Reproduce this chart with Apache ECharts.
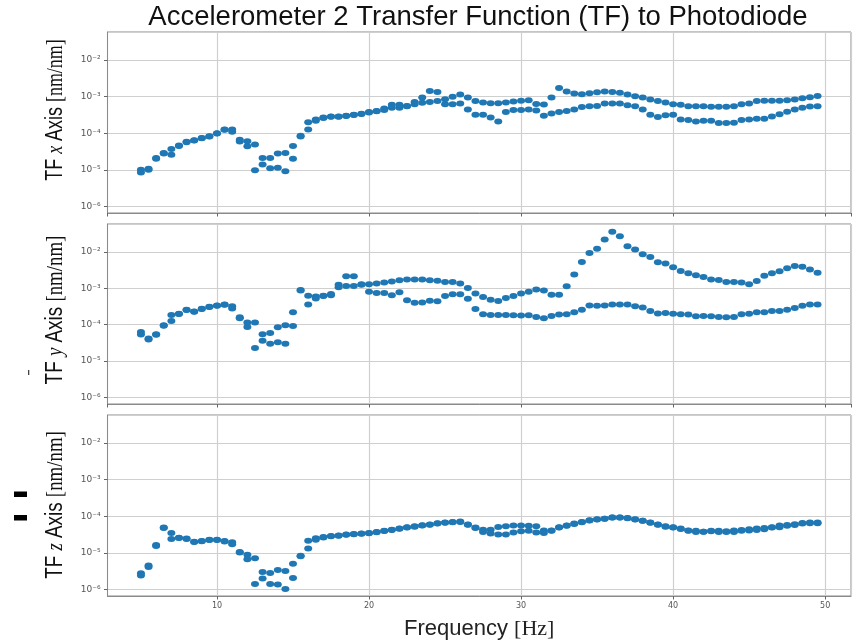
<!DOCTYPE html>
<html>
<head>
<meta charset="utf-8">
<script src="https://cdn.jsdelivr.net/npm/echarts@6/dist/echarts.min.js"></script>
<style>html,body{margin:0;padding:0;background:#fff;}#c{width:855px;height:642px;}</style>
</head>
<body>
<div id="c"></div>
<script>
const titleText = 'Accelerometer 2 Transfer Function (TF) to Photodiode';
const xAxisTitle = ['Frequency ', '[Hz]'];
const panelAxisNames = ['x', 'y', 'z'];
const xTicks = [10, 20, 30, 40, 50];
const yTickExps = [-6, -5, -4, -3, -2];
const yTickLabels = ['10\u207B\u2076', '10\u207B\u2075', '10\u207B\u2074', '10\u207B\u00B3', '10\u207B\u00B2'];

const freq = [
  5.0, 5.5, 6.0, 6.5, 7.0, 7.5, 8.0, 8.5, 9.0, 9.5,
  10.0, 10.5, 11.0, 11.5, 12.0, 12.5, 13.0, 13.5, 14.0, 14.5,
  15.0, 15.5, 16.0, 16.5, 17.0, 17.5, 18.0, 18.5, 19.0, 19.5,
  20.0, 20.5, 21.0, 21.5, 22.0, 22.5, 23.0, 23.5, 24.0, 24.5,
  25.0, 25.5, 26.0, 26.5, 27.0, 27.5, 28.0, 28.5, 29.0, 29.5,
  30.0, 30.5, 31.0, 31.5, 32.0, 32.5, 33.0, 33.5, 34.0, 34.5,
  35.0, 35.5, 36.0, 36.5, 37.0, 37.5, 38.0, 38.5, 39.0, 39.5,
  40.0, 40.5, 41.0, 41.5, 42.0, 42.5, 43.0, 43.5, 44.0, 44.5,
  45.0, 45.5, 46.0, 46.5, 47.0, 47.5, 48.0, 48.5, 49.0, 49.5
];

const xUpper = [
  1.0e-5, 1.07e-5, 2.1e-5, 2.9e-5, 3.7e-5, 4.6e-5, 5.9e-5, 6.4e-5, 7.4e-5, 8.3e-5,
  1.0e-4, 1.26e-4, 1.26e-4, 6.7e-5, 6.1e-5, 4.9e-5, 2.1e-5, 2.1e-5, 2.8e-5, 2.9e-5,
  4.5e-5, 8.5e-5, 2.0e-4, 2.4e-4, 2.7e-4, 2.9e-4, 2.9e-4, 3.0e-4, 3.2e-4, 3.4e-4,
  3.8e-4, 4.1e-4, 4.8e-4, 6.0e-4, 6.0e-4, 5.6e-4, 7.2e-4, 9.5e-4, 1.44e-3, 1.35e-3,
  8.5e-4, 1.0e-3, 1.15e-3, 9.5e-4, 7.6e-4, 6.9e-4, 6.6e-4, 6.6e-4, 6.9e-4, 7.4e-4,
  7.7e-4, 8.0e-4, 6.3e-4, 6.1e-4, 9.5e-4, 1.74e-3, 1.38e-3, 1.22e-3, 1.17e-3, 1.25e-3,
  1.33e-3, 1.38e-3, 1.35e-3, 1.28e-3, 1.15e-3, 1.03e-3, 9.5e-4, 8.4e-4, 7.6e-4, 6.9e-4,
  6.2e-4, 6.0e-4, 5.5e-4, 5.5e-4, 5.5e-4, 5.3e-4, 5.3e-4, 5.3e-4, 5.5e-4, 6.2e-4,
  6.5e-4, 7.6e-4, 7.8e-4, 7.8e-4, 7.8e-4, 8.0e-4, 8.4e-4, 9.1e-4, 9.7e-4, 1.05e-3
];
const xLower = [
  8.5e-6, 1.0e-5, 2.0e-5, 2.8e-5, 2.6e-5, 4.5e-5, 5.7e-5, 6.3e-5, 7.3e-5, 8.2e-5,
  9.8e-5, 1.24e-4, 1.1e-4, 6.0e-5, 4.4e-5, 9.8e-6, 1.4e-5, 1.1e-5, 1.15e-5, 9.1e-6,
  2.0e-5, 8.2e-5, 1.26e-4, 2.2e-4, 2.6e-4, 2.85e-4, 2.85e-4, 2.95e-4, 3.15e-4, 3.35e-4,
  3.7e-4, 4.0e-4, 4.3e-4, 5.0e-4, 5.0e-4, 5.5e-4, 6.2e-4, 6.8e-4, 7.2e-4, 7.6e-4,
  6.2e-4, 6.2e-4, 6.5e-4, 4.5e-4, 3.2e-4, 3.2e-4, 2.7e-4, 2.1e-4, 3.8e-4, 4.3e-4,
  4.3e-4, 4.5e-4, 4.2e-4, 3.0e-4, 3.5e-4, 3.8e-4, 4.1e-4, 4.5e-4, 5.2e-4, 5.5e-4,
  5.6e-4, 6.5e-4, 6.5e-4, 6.5e-4, 5.8e-4, 5.5e-4, 4.5e-4, 3.2e-4, 2.8e-4, 3.1e-4,
  3.2e-4, 2.4e-4, 2.3e-4, 2.1e-4, 2.2e-4, 2.2e-4, 1.9e-4, 1.9e-4, 1.95e-4, 2.3e-4,
  2.4e-4, 2.5e-4, 2.5e-4, 2.9e-4, 3.3e-4, 3.9e-4, 4.5e-4, 5.0e-4, 5.4e-4, 5.5e-4
];

const yUpper = [
  6.3e-5, 4.2e-5, 5.5e-5, 9.6e-5, 1.86e-4, 2.0e-4, 2.6e-4, 2.3e-4, 2.75e-4, 3.1e-4,
  3.4e-4, 3.6e-4, 3.2e-4, 1.6e-4, 1.15e-4, 1.15e-4, 5.5e-5, 5.9e-5, 8.5e-5, 9.6e-5,
  2.2e-4, 9.0e-4, 6.3e-4, 6.0e-4, 6.3e-4, 7.0e-4, 1.26e-3, 2.15e-3, 2.15e-3, 1.3e-3,
  1.3e-3, 1.35e-3, 1.44e-3, 1.54e-3, 1.66e-3, 1.74e-3, 1.74e-3, 1.74e-3, 1.66e-3, 1.63e-3,
  1.5e-3, 1.5e-3, 1.35e-3, 1.03e-3, 7.2e-4, 5.8e-4, 4.9e-4, 4.5e-4, 5.4e-4, 6.2e-4,
  7.2e-4, 8.1e-4, 9.3e-4, 8.7e-4, 6.7e-4, 6.7e-4, 1.14e-3, 2.4e-3, 5.3e-3, 9.4e-3,
  1.23e-2, 2.2e-2, 3.6e-2, 2.7e-2, 1.44e-2, 1.18e-2, 8.7e-3, 7.3e-3, 5.2e-3, 4.8e-3,
  3.8e-3, 3.0e-3, 2.6e-3, 2.3e-3, 2.05e-3, 1.74e-3, 1.7e-3, 1.5e-3, 1.5e-3, 1.44e-3,
  1.3e-3, 1.6e-3, 2.24e-3, 2.6e-3, 2.95e-3, 3.6e-3, 4.1e-3, 3.9e-3, 3.3e-3, 2.7e-3
];
const yLower = [
  5.4e-5, 3.9e-5, 5.3e-5, 9.4e-5, 1.26e-4, 1.98e-4, 2.55e-4, 2.28e-4, 2.7e-4, 3.05e-4,
  3.35e-4, 3.55e-4, 2.8e-4, 1.5e-4, 8.7e-5, 2.3e-5, 3.6e-5, 3.0e-5, 3.3e-5, 3.0e-5,
  9.2e-5, 8.8e-4, 3.6e-4, 5.3e-4, 6.2e-4, 6.5e-4, 1.07e-3, 1.17e-3, 1.17e-3, 1.25e-3,
  8.1e-4, 7.4e-4, 7.4e-4, 6.5e-4, 7.8e-4, 4.7e-4, 4.0e-4, 4.1e-4, 4.6e-4, 4.4e-4,
  6.2e-4, 6.9e-4, 6.9e-4, 5.2e-4, 2.7e-4, 1.95e-4, 1.86e-4, 1.86e-4, 1.86e-4, 1.83e-4,
  1.78e-4, 1.83e-4, 1.64e-4, 1.5e-4, 1.74e-4, 1.9e-4, 1.93e-4, 2.2e-4, 2.6e-4, 3.4e-4,
  3.3e-4, 3.4e-4, 3.6e-4, 3.6e-4, 3.6e-4, 3.2e-4, 3.0e-4, 2.4e-4, 2.05e-4, 2.1e-4,
  2.0e-4, 1.95e-4, 1.9e-4, 1.7e-4, 1.75e-4, 1.7e-4, 1.64e-4, 1.6e-4, 1.64e-4, 1.94e-4,
  2.0e-4, 2.2e-4, 2.2e-4, 2.4e-4, 2.4e-4, 2.6e-4, 2.9e-4, 3.3e-4, 3.6e-4, 3.6e-4
];

const zUpper = [
  2.75e-6, 4.5e-6, 1.65e-5, 4.9e-5, 3.5e-5, 2.6e-5, 2.45e-5, 2.0e-5, 2.1e-5, 2.3e-5,
  2.3e-5, 2.1e-5, 1.95e-5, 1.05e-5, 8.9e-6, 7.1e-6, 3.0e-6, 2.8e-6, 3.4e-6, 3.2e-6,
  5.0e-6, 8.3e-6, 2.15e-5, 2.5e-5, 2.7e-5, 2.9e-5, 3.0e-5, 3.2e-5, 3.3e-5, 3.4e-5,
  3.5e-5, 3.7e-5, 4.0e-5, 4.3e-5, 4.6e-5, 5.0e-5, 5.3e-5, 5.7e-5, 6.0e-5, 6.4e-5,
  6.8e-5, 7.0e-5, 7.2e-5, 6.0e-5, 4.9e-5, 4.3e-5, 4.3e-5, 5.1e-5, 5.3e-5, 5.6e-5,
  5.6e-5, 5.5e-5, 5.3e-5, 4.1e-5, 4.1e-5, 5.0e-5, 5.6e-5, 6.3e-5, 7.0e-5, 7.8e-5,
  8.3e-5, 8.6e-5, 9.3e-5, 9.3e-5, 9.0e-5, 8.3e-5, 7.6e-5, 6.8e-5, 6.0e-5, 5.3e-5,
  5.0e-5, 4.6e-5, 4.1e-5, 4.0e-5, 3.8e-5, 4.0e-5, 4.0e-5, 3.9e-5, 4.1e-5, 4.2e-5,
  4.4e-5, 4.6e-5, 4.8e-5, 5.0e-5, 5.6e-5, 5.8e-5, 6.1e-5, 6.6e-5, 6.8e-5, 6.8e-5
];
const zLower = [
  2.4e-6, 4.1e-6, 1.55e-5, 4.8e-5, 2.4e-5, 2.55e-5, 2.4e-5, 1.98e-5, 2.08e-5, 2.25e-5,
  2.25e-5, 2.05e-5, 1.73e-5, 1.02e-5, 6.7e-6, 1.4e-6, 2.0e-6, 1.4e-6, 1.37e-6, 1.02e-6,
  2.05e-6, 8.1e-6, 1.32e-5, 2.3e-5, 2.65e-5, 2.85e-5, 2.95e-5, 3.15e-5, 3.25e-5, 3.35e-5,
  3.45e-5, 3.65e-5, 3.95e-5, 4.25e-5, 4.55e-5, 4.9e-5, 5.2e-5, 5.6e-5, 5.9e-5, 6.3e-5,
  6.7e-5, 6.9e-5, 7.0e-5, 5.9e-5, 4.8e-5, 3.7e-5, 3.4e-5, 3.2e-5, 3.2e-5, 3.6e-5,
  3.9e-5, 4.0e-5, 3.6e-5, 3.5e-5, 4.0e-5, 4.9e-5, 5.5e-5, 6.2e-5, 6.9e-5, 7.7e-5,
  8.2e-5, 8.5e-5, 9.2e-5, 9.2e-5, 8.9e-5, 8.2e-5, 7.5e-5, 6.7e-5, 5.9e-5, 5.2e-5,
  4.9e-5, 4.5e-5, 4.0e-5, 3.7e-5, 3.75e-5, 3.9e-5, 3.7e-5, 3.7e-5, 3.7e-5, 4.0e-5,
  4.1e-5, 4.2e-5, 4.4e-5, 4.9e-5, 5.0e-5, 5.5e-5, 5.8e-5, 6.3e-5, 6.5e-5, 6.4e-5
];

const panels = [[xUpper, xLower], [yUpper, yLower], [zUpper, zLower]];

// layout
const gridLeft = 107.5, gridWidth = 743.5;
const gridTops = [32, 224, 415];
const gridHeights = [181, 180, 181];
const xMin = 2.8, xMax = 51.7;
const yMin = Math.pow(10, -6.18), yMax = Math.pow(10, -1.23);
const dotColor = '#1f77b4';
const gridLineColor = '#cfcfcf';
const spineColor = '#8a8a8a';

function yLabel(v) {
  const e = Math.log10(v);
  const r = Math.round(e);
  if (Math.abs(e - r) > 1e-6) return '';
  const idx = yTickExps.indexOf(r);
  return idx >= 0 ? yTickLabels[idx] : '';
}
function xLabel(v) {
  return xTicks.indexOf(Math.round(v * 1000) / 1000) >= 0 ? String(v) : '';
}

const grids = [], xAxes = [], yAxes = [], series = [];
for (let i = 0; i < 3; i++) {
  grids.push({left: gridLeft, top: gridTops[i], width: gridWidth, height: gridHeights[i],
    show: true, borderColor: spineColor, borderWidth: 1, backgroundColor: 'transparent'});
  xAxes.push({
    type: 'value', gridIndex: i, min: xMin, max: xMax,
    axisLine: {show: true, onZero: false, lineStyle: {color: spineColor}},
    axisTick: {show: true, length: 3.5, lineStyle: {color: '#666'}},
    axisLabel: {show: i === 2, fontSize: 8, color: '#555', margin: 6, fontFamily: 'DejaVu Sans',
      formatter: xLabel, showMinLabel: false, showMaxLabel: false},
    splitLine: {show: true, lineStyle: {color: gridLineColor, width: 1.2}},
    name: i === 2 ? '{a|' + xAxisTitle[0] + '}{b|' + xAxisTitle[1] + '}' : '',
    nameLocation: 'middle', nameGap: 22,
    nameTextStyle: {rich: {
      a: {fontFamily: 'Liberation Sans', fontSize: 22, color: '#222'},
      b: {fontFamily: 'Liberation Serif', fontSize: 22, color: '#222'}
    }}
  });
  yAxes.push({
    type: 'log', logBase: 10, gridIndex: i, min: yMin, max: yMax,
    axisLine: {show: true, lineStyle: {color: spineColor}},
    axisTick: {show: true, length: 3.5, lineStyle: {color: '#666'}},
    axisLabel: {fontSize: 9, color: '#555', margin: 7, fontFamily: 'DejaVu Sans',
      formatter: yLabel, showMinLabel: false, showMaxLabel: false},
    splitLine: {show: true, lineStyle: {color: gridLineColor, width: 1.2}}
  });
  panels[i].forEach(function (arr) {
    series.push({
      type: 'scatter', xAxisIndex: i, yAxisIndex: i,
      symbol: 'circle', symbolSize: [8, 6],
      itemStyle: {color: dotColor, opacity: 1},
      data: freq.map(function (f, k) { return [f, arr[k]]; }),
      silent: true, animation: false
    });
  });
}

const labelCenters = [110, 310, 505];
const labelScale = [0.78, 0.82, 0.82];
const graphics = labelCenters.map(function (cy, i) {
  return {
    type: 'text', x: 56, y: cy, rotation: Math.PI / 2, scaleX: labelScale[i], scaleY: 1,
    style: {
      text: '{a|TF }{b|' + panelAxisNames[i] + '}{a| Axis }{c|[nm/nm]}',
      align: 'center', verticalAlign: 'middle',
      rich: {
        a: {fontFamily: 'Liberation Sans', fontSize: 23, fill: '#111'},
        b: {fontFamily: 'Liberation Serif', fontStyle: 'italic', fontSize: 23, fill: '#111'},
        c: {fontFamily: 'Liberation Serif', fontSize: 23, fill: '#111'}
      }
    }
  };
});
graphics.push({type: 'rect', shape: {x: 28, y: 370, width: 1.3, height: 5}, style: {fill: '#444'}});
graphics.push({type: 'rect', shape: {x: 14, y: 491.5, width: 13, height: 5.5}, style: {fill: '#000'}});
graphics.push({type: 'rect', shape: {x: 14, y: 515, width: 13, height: 5.5}, style: {fill: '#000'}});

const chart = echarts.init(document.getElementById('c'), null, {renderer: 'canvas'});
chart.setOption({
  animation: false,
  backgroundColor: '#fff',
  title: {text: titleText, left: 478, top: 3, textAlign: 'center', padding: 0,
    textStyle: {fontFamily: 'Liberation Sans', fontSize: 27.5, fontWeight: 'normal', color: '#111'}},
  grid: grids, xAxis: xAxes, yAxis: yAxes, series: series, graphic: graphics
});
</script>
</body>
</html>
